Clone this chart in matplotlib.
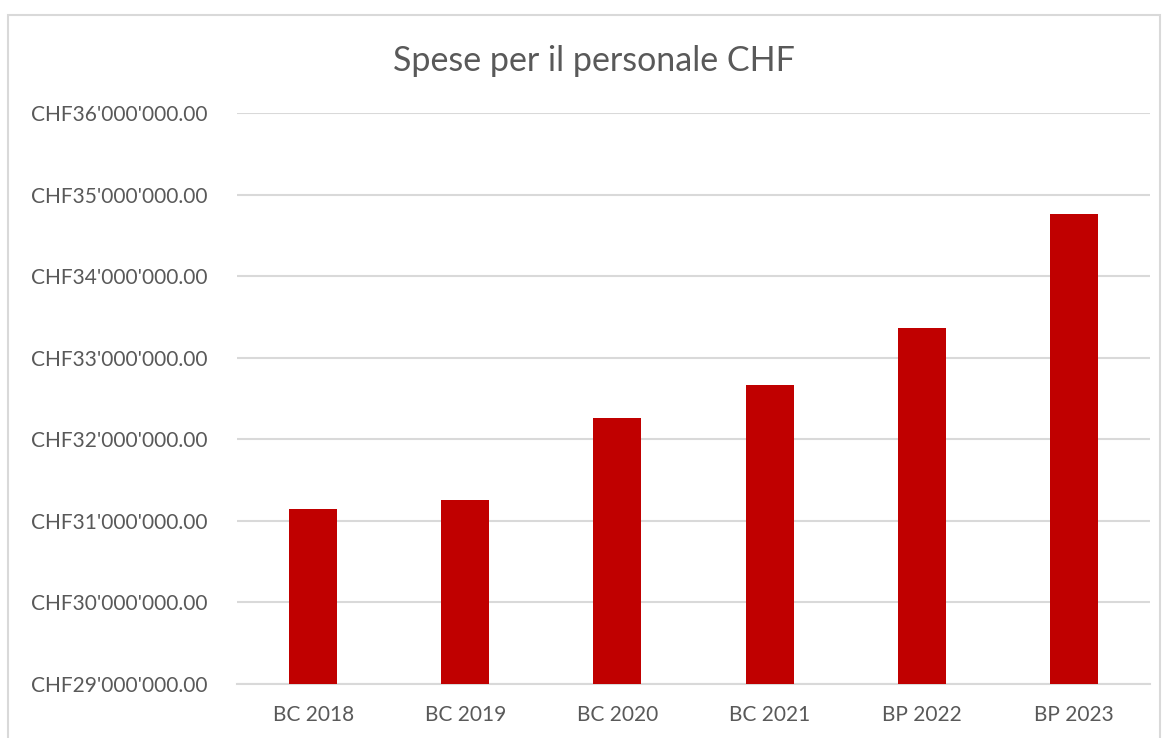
import matplotlib.pyplot as plt
from matplotlib.patches import Rectangle
from matplotlib.ticker import FuncFormatter

categories = ["BC 2018", "BC 2019", "BC 2020", "BC 2021", "BP 2022", "BP 2023"]
spese = [31145000, 31256000, 32261000, 32666000, 33364000, 34762000]
y_ticks = [29e6, 30e6, 31e6, 32e6, 33e6, 34e6, 35e6, 36e6]

plt.rcParams['font.family'] = ['Lato', 'DejaVu Sans']
text_col = "#595959"

fig = plt.figure(figsize=(11.66, 7.38), dpi=100)
ax = fig.add_axes([0.2033, 0.0732, 0.783, 0.7737])

# outer chart border
fig.patches.append(Rectangle((8 / 1166, -0.05), (1160 - 8) / 1166, 1.05 - 15 / 738,
                             transform=fig.transFigure, fill=False,
                             edgecolor="#d9d9d9", linewidth=1.5))

x = range(len(categories))
ax.bar(x, spese, width=0.316, color="#c00000", zorder=3)

ax.set_xlim(-0.5, len(categories) - 0.5)
ax.set_ylim(29e6, 36e6)
ax.set_yticks(y_ticks)


def chf(v, pos):
    s = f"{v:,.2f}".replace(",", "'")
    return "CHF" + s


ax.yaxis.set_major_formatter(FuncFormatter(chf))
ax.set_xticks(list(x))
ax.set_xticklabels(categories)

ax.grid(axis="y", color="#d9d9d9", linewidth=1.5, zorder=0)
for s in ["top", "right", "left"]:
    ax.spines[s].set_visible(False)
ax.spines["bottom"].set_color("#d9d9d9")
ax.spines["bottom"].set_linewidth(1.5)
ax.tick_params(axis="both", length=0, labelsize=15, colors=text_col)
ax.tick_params(axis="y", pad=21)
ax.tick_params(axis="x", pad=15)

fig.text(0.509, 0.918, "Spese per il personale CHF", ha="center", va="center",
         fontsize=24.5, color=text_col)

fig.savefig("out.png", dpi=100, facecolor="white")
